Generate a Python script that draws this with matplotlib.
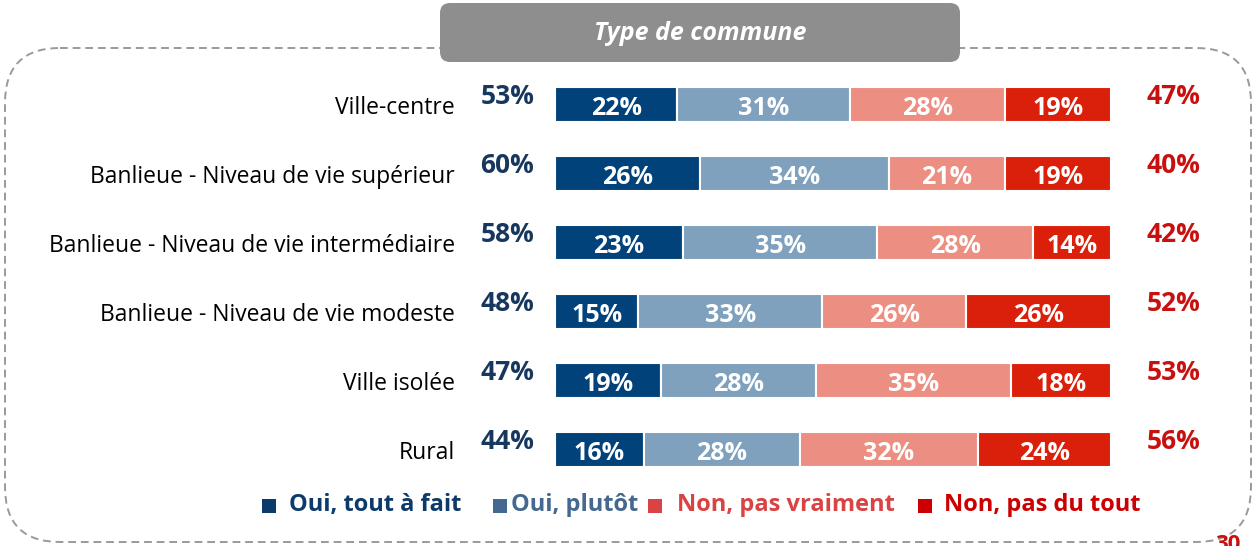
import matplotlib
matplotlib.use("Agg")
import matplotlib.pyplot as plt
from matplotlib.patches import FancyBboxPatch, Rectangle
import numpy as np

categories = ["Ville-centre", "Banlieue - Niveau de vie supérieur",
              "Banlieue - Niveau de vie intermédiaire", "Banlieue - Niveau de vie modeste",
              "Ville isolée", "Rural"]
oui_tout = [22, 26, 23, 15, 19, 16]
oui_plutot = [31, 34, 35, 33, 28, 28]
non_pas_vraiment = [28, 21, 28, 26, 35, 32]
non_pas_du_tout = [19, 19, 14, 26, 18, 24]
total_oui = [53, 60, 58, 48, 47, 44]
total_non = [47, 40, 42, 52, 53, 56]
series_names = ["Oui, tout à fait", "Oui, plutôt", "Non, pas vraiment", "Non, pas du tout"]
title = "Type de commune"
page_number = "30"

bar_colors = ["#02427A", "#7FA1BE", "#EC8F82", "#DA200A"]
legend_colors = ["#0B3A6B", "#44688F", "#D94343", "#CC0000"]
dark_blue = "#17375E"
dark_red = "#C8100F"

plt.rcParams['font.family'] = ['Open Sans', 'DejaVu Sans']

W, H = 1256, 546
fig = plt.figure(figsize=(W / 100, H / 100), dpi=100)

# overlay axes in pixel coordinates for decorations
ov = fig.add_axes([0, 0, 1, 1])
ov.set_xlim(0, W)
ov.set_ylim(H, 0)
ov.axis("off")

box = FancyBboxPatch((5, 48), 1246, 494, boxstyle="round,pad=0,rounding_size=55",
                     fill=False, edgecolor="#9A9A9A", linestyle=(0, (4, 2.5)), linewidth=1.4)
ov.add_patch(box)
tbox = FancyBboxPatch((440, 3), 520, 59, boxstyle="round,pad=0,rounding_size=10",
                      facecolor="#8E8E8E", edgecolor="none")
ov.add_patch(tbox)
ov.text(700, 34, title, color="white", fontsize=18, fontweight="bold", fontstyle="italic",
        ha="center", va="center")

# legend
leg_x_sq = [262, 493, 648, 918]
leg_x_tx = [289, 511, 677, 944]
for i, name in enumerate(series_names):
    ov.add_patch(Rectangle((leg_x_sq[i], 499), 14, 14, facecolor=legend_colors[i], edgecolor="none"))
    ov.text(leg_x_tx[i], 505, name, color=legend_colors[i], fontsize=17, fontweight="bold",
            ha="left", va="center")

ov.text(1228, 534, page_number, color=dark_red, fontsize=16, fontweight="bold", ha="center", va="top")

# bar axes
top_px, bot_px = 70, 484
left_px, right_px = 555, 1111
ax = fig.add_axes([left_px / W, (H - bot_px) / H, (right_px - left_px) / W, (bot_px - top_px) / H])
ax.set_xlim(0, 100)
ax.set_ylim(len(categories) - 0.5, -0.5)
ax.axis("off")

y = np.arange(len(categories))
series = [oui_tout, oui_plutot, non_pas_vraiment, non_pas_du_tout]
left = np.zeros(len(categories))
for s, col in zip(series, bar_colors):
    vals = np.array(s, dtype=float)
    ax.barh(y, vals, left=left, height=0.51, color=col, edgecolor="white", linewidth=1.5)
    for yi, l, v in zip(y, left, vals):
        ax.text(l + v / 2, yi + 0.06, f"{int(v)}%", color="white", fontsize=18, fontweight="bold",
                ha="center", va="center")
    left += vals

for yi, cat, to, tn in zip(y, categories, total_oui, total_non):
    ax.text(-18, yi + 0.05, cat, ha="right", va="center", fontsize=16.5, color="black", clip_on=False)
    ax.text(-8.6, yi - 0.12, f"{to}%", ha="center", va="center", fontsize=19, fontweight="bold",
            color=dark_blue, clip_on=False)
    ax.text(111.3, yi - 0.12, f"{tn}%", ha="center", va="center", fontsize=19, fontweight="bold",
            color=dark_red, clip_on=False)

fig.savefig("out.png", dpi=100)
